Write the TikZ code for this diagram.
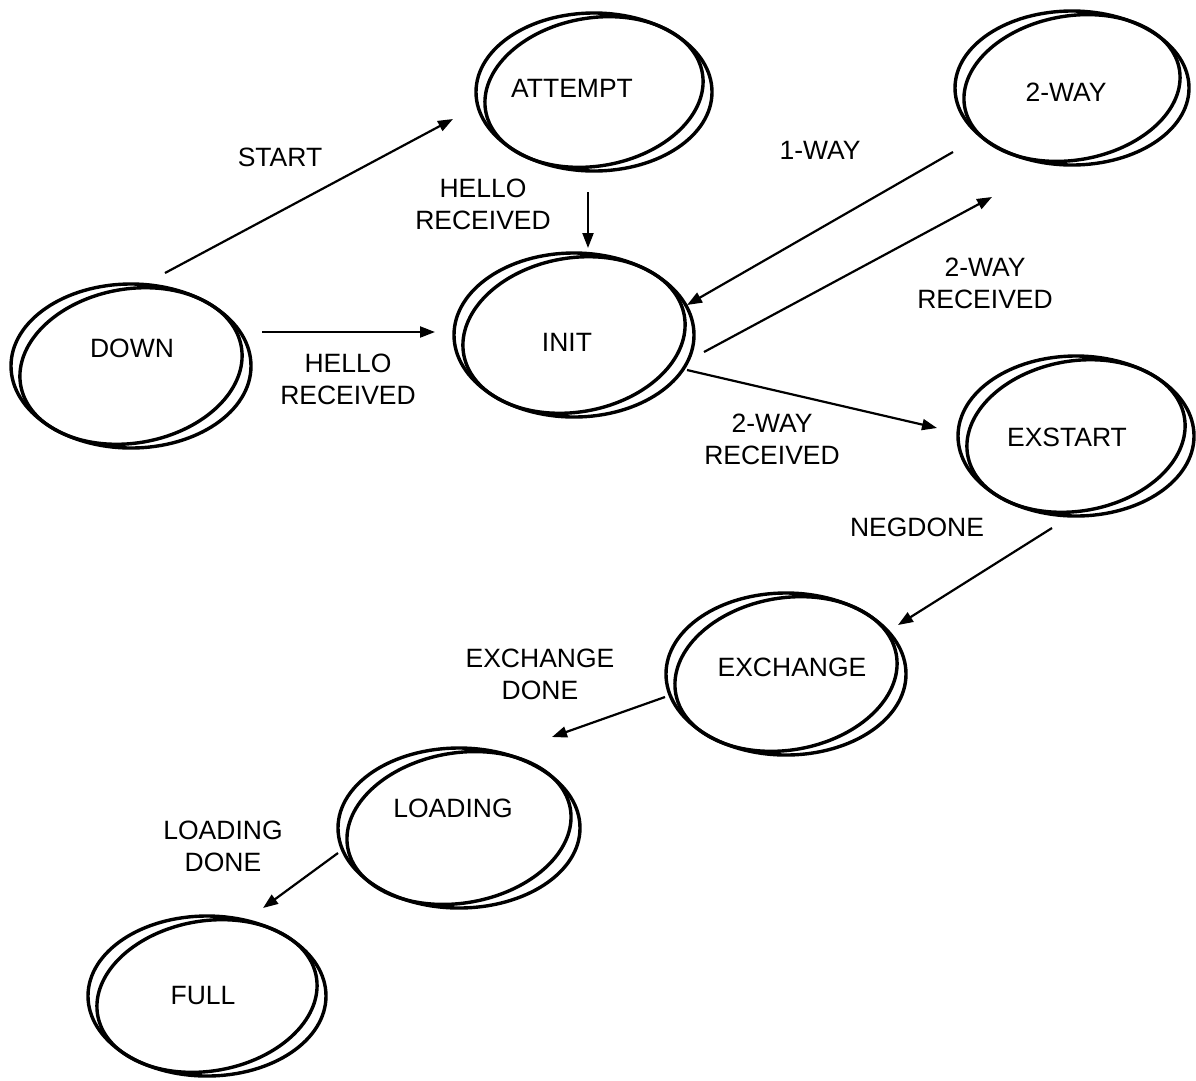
\documentclass[tikz,border=0pt]{standalone}
\usepackage{fontspec}
\setmainfont{Liberation Sans}
\usetikzlibrary{arrows.meta,shapes.geometric}

\begin{document}
\begin{tikzpicture}[x=1pt,y=-1pt,
  every node/.style={font=\fontsize{26.5}{32}\selectfont},
  state/.style={ellipse, draw, line width=3.4pt, inner sep=0pt,
    minimum width=#1},
  ring/.style={line width=3.4pt},
  label text/.style={align=center, inner sep=0pt},
  trans/.style={line width=2.2pt, -{Triangle[length=15pt,width=11pt]}}
]
\fill[white] (0,0) rectangle (1196,1080);
\useasboundingbox (0,0) rectangle (1196,1080);

% states: name / centre x / centre y / x radius / y radius / caption / caption x / caption y
\foreach \n/\cx/\cy/\rx/\ry/\t/\tx/\ty in {
  down/131/366/120/82/DOWN/132/348,
  attempt/594/92/118/79/ATTEMPT/572/88,
  init/574/335/120/82/INIT/567/342,
  twoway/1072/88/117/77/2-WAY/1066/92,
  exstart/1076/436/118/80/EXSTART/1067/437,
  exchange/786/674/120/81/EXCHANGE/792/667,
  loading/459/828/121/80/LOADING/453/808,
  full/207/996/119/80/FULL/203/995}
{
  \node[state=2*\rx, minimum height=2*\ry] (\n) at (\cx,\cy) {};
  % inner ring, tilted so that it meets the outer one top right and bottom left
  \pgfmathsetmacro\ia{\rx-8}
  \pgfmathsetmacro\ib{\ry-5}
  \draw[ring] plot[domain=0:355, samples=72, smooth cycle, variable=\u]
    ({\cx + \ia*cos(\u)*cos(-10) - \ib*sin(\u)*sin(-10)},
     {\cy + \ia*cos(\u)*sin(-10) + \ib*sin(\u)*cos(-10)});
  \node[label text] (\n-name) at (\tx,\ty) {\t};
}

% transitions
\draw[trans] ([shift={(34,-93)}]down.center) -- ([shift={(-141,27)}]attempt.center);
\draw[trans] ([shift={(131,-34)}]down.center) -- ([shift={(-139,-3)}]init.center);
\draw[trans] ([shift={(-6,100)}]attempt.center) -- ([shift={(14,-87)}]init.center);
\draw[trans] ([shift={(-119,64)}]twoway.center) -- ([shift={(113,-30)}]init.center);
\draw[trans] ([shift={(130,17)}]init.center) -- ([shift={(-80,109)}]twoway.center);
\draw[trans] ([shift={(113,35)}]init.center) -- ([shift={(-139,-8)}]exstart.center);
\draw[trans] ([shift={(-24,92)}]exstart.center) -- ([shift={(112,-49)}]exchange.center);
\draw[trans] ([shift={(-121,23)}]exchange.center) -- ([shift={(93,-91)}]loading.center);
\draw[trans] ([shift={(-121,25)}]loading.center) -- ([shift={(56,-88)}]full.center);

% transition labels
\node[label text] (l-start) at (280,157) {START};
\node[label text] (l-hello1) at (348,379) {HELLO\\RECEIVED};
\node[label text] (l-hello2) at (483,204) {HELLO\\RECEIVED};
\node[label text] (l-oneway) at (820,150) {1-WAY};
\node[label text] (l-twoway1) at (985,283) {2-WAY\\RECEIVED};
\node[label text] (l-twoway2) at (772,439) {2-WAY\\RECEIVED};
\node[label text] (l-neg) at (917,527) {NEGDONE};
\node[label text] (l-exch) at (540,674) {EXCHANGE\\DONE};
\node[label text] (l-load) at (223,846) {LOADING\\DONE};
\end{tikzpicture}
\end{document}
